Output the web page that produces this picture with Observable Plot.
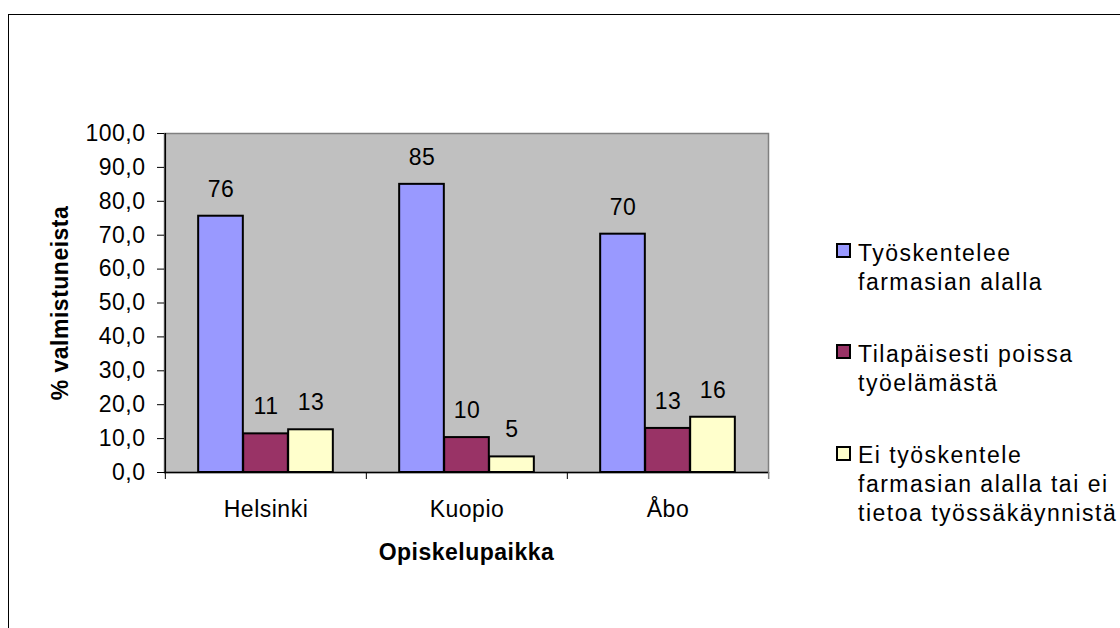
<!DOCTYPE html>
<html><head><meta charset="utf-8">
<script src="https://cdn.jsdelivr.net/npm/d3@7"></script>
<script src="https://cdn.jsdelivr.net/npm/@observablehq/plot@0.6"></script>
<style>
body{margin:0;background:#fff;}
#wrap{position:relative;width:1120px;height:628px;overflow:hidden;font-family:"Liberation Sans",Arial,sans-serif;}
#border{position:absolute;left:8px;top:14px;width:1200px;height:700px;border:1.5px solid #000;box-sizing:border-box;pointer-events:none;}
#chart{position:absolute;left:0;top:0;}
.lg{position:absolute;font-size:23px;line-height:29px;letter-spacing:1.5px;color:#000;white-space:nowrap;}
.sw{position:absolute;width:15px;height:15px;border:2px solid #000;box-sizing:border-box;}
</style></head>
<body>
<div id="wrap"><div id="chart"></div><div id="legend"></div><div id="border"></div></div>
<script>
// Data
const categories = ["Helsinki", "Kuopio", "Åbo"];
const seriesNames = [
  "Työskentelee farmasian alalla",
  "Tilapäisesti poissa työelämästä",
  "Ei työskentele farmasian alalla tai ei tietoa työssäkäynnistä"
];
const legendLines = [
  ["Työskentelee", "farmasian alalla"],
  ["Tilapäisesti poissa", "työelämästä"],
  ["Ei työskentele", "farmasian alalla tai ei", "tietoa työssäkäynnistä"]
];
const tyoskentelee = [75.6, 85.0, 70.3];
const tilapaisesti = [11.4, 10.3, 13.0];
const eiTyoskentele = [12.6, 4.6, 16.3];
const seriesColors = ["#9999FF", "#993366", "#FFFFCC"];
const yTicks = [0, 10, 20, 30, 40, 50, 60, 70, 80, 90, 100];
const xTitle = "Opiskelupaikka";
const yTitle = "% valmistuneista";

const seriesValues = [tyoskentelee, tilapaisesti, eiTyoskentele];
const rows = [];
seriesValues.forEach((vals, s) => vals.forEach((v, c) => rows.push({category: categories[c], series: s, value: v})));

const W = 1120, H = 628;
const mL = 164, mR = 352, mT = 133, mB = 156;
const band = (W - mL - mR) / categories.length;
const barW = 45;
const inset = (band - barW) / 2;

const marks = [
  Plot.frame({fill: "#C0C0C0", stroke: "#808080", strokeWidth: 1.5})
];
seriesValues.forEach((_, s) => {
  const d = rows.filter(r => r.series === s);
  const off = (s - 1) * barW;
  marks.push(Plot.barY(d, {x: "category", y: "value", fill: seriesColors[s], stroke: "#000", strokeWidth: 2,
    insetLeft: inset, insetRight: inset, dx: off}));
  marks.push(Plot.text(d, {x: "category", y: "value", text: r => Math.round(r.value).toString(), dx: off, dy: -27,
    fill: "#000", fontSize: 23}));
});
marks.push(
  Plot.ruleY([0], {stroke: "#000", strokeWidth: 1.5}),
  Plot.ruleX([categories[0]], {x: d => d, y1: 0, y2: 100, dx: -band / 2, stroke: "#000", strokeWidth: 1.5}),
  Plot.ruleX(categories, {x: d => d, y1: 0, y2: 0, insetBottom: -7, dx: -band / 2, stroke: "#000", strokeWidth: 1}),
  Plot.ruleX([categories[categories.length - 1]], {x: d => d, y1: 0, y2: 0, insetBottom: -7, dx: band / 2, stroke: "#808080", strokeWidth: 1.5}),
  Plot.axisY({ticks: yTicks, tickFormat: d => d.toFixed(1).replace(".", ","), tickSize: 7, tickPadding: 12, label: null, fontSize: 23}),
  Plot.axisX({tickSize: 0, tickPadding: 28, label: null, fontSize: 23}),
  Plot.text([xTitle], {frameAnchor: "bottom", lineAnchor: "middle", textAnchor: "middle", dy: 80, fontWeight: "bold", fontSize: 23}),
  Plot.text([yTitle], {frameAnchor: "left", lineAnchor: "middle", textAnchor: "middle", dx: -104, rotate: -90, fontWeight: "bold", fontSize: 23})
);

const chart = Plot.plot({
  width: W, height: H,
  marginLeft: mL, marginRight: mR, marginTop: mT, marginBottom: mB,
  style: {fontFamily: '"Liberation Sans", Arial, sans-serif', fontSize: "23px", letterSpacing: "0.5px", color: "#000", background: "transparent"},
  x: {domain: categories, padding: 0},
  y: {domain: [0, 100]},
  marks
});
document.getElementById("chart").appendChild(chart);

// Legend
const legend = document.getElementById("legend");
const tops = [238.5, 339.5, 441];
legendLines.forEach((lines, i) => {
  const sw = document.createElement("div");
  sw.className = "sw";
  sw.style.left = "836px";
  sw.style.top = (tops[i] + 4.5) + "px";
  sw.style.background = seriesColors[i];
  sw.title = seriesNames[i];
  legend.appendChild(sw);
  const t = document.createElement("div");
  t.className = "lg";
  t.style.left = "858px";
  t.style.top = tops[i] + "px";
  t.innerHTML = lines.join("<br>");
  legend.appendChild(t);
});
</script>
</body></html>
